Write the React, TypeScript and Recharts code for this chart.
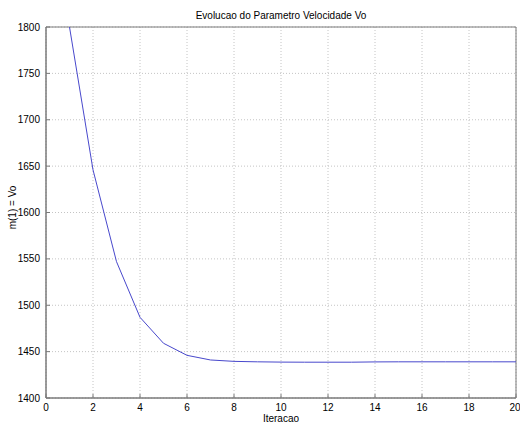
import { LineChart, Line, XAxis, YAxis, CartesianGrid, Label, ReferenceArea } from "recharts"

// iteration number and the value of m(1) = Vo
const iterations = [1, 2, 3, 4, 5, 6, 7, 8, 9, 10, 11, 12, 13, 14, 15, 16, 17, 18, 19, 20]
const voValues = [
  1800, 1646, 1547, 1487, 1459, 1446, 1441, 1439.5, 1439, 1438.7,
  1438.6, 1438.6, 1438.6, 1438.9, 1439, 1439, 1439, 1439, 1439, 1439,
]

const xTicks = [0, 2, 4, 6, 8, 10, 12, 14, 16, 18, 20]
const yTicks = [1400, 1450, 1500, 1550, 1600, 1650, 1700, 1750, 1800]

const data = iterations.map((it, i) => ({ x: it, vo: voValues[i] }))

const font = "'Liberation Sans', Arial, Helvetica, sans-serif"
const axisColor = "#7a7a7a"
const tickStyle = { fontSize: 10, fill: "#000", fontFamily: font }

export default function App() {
  return (
    <div style={{ position: "relative", width: 520, height: 426, background: "#fff", fontFamily: font }}>
      <style>{"body{margin:0}"}</style>
      <div
        style={{
          position: "absolute",
          left: 46,
          width: 470,
          top: 10,
          textAlign: "center",
          fontSize: 10,
          color: "#000",
        }}
      >
        Evolucao do Parametro Velocidade Vo
      </div>
      <LineChart width={520} height={426} data={data} margin={{ top: 27, right: 4, left: 0, bottom: 0 }}>
        <CartesianGrid stroke="#c4c4c4" strokeDasharray="1 2" />
        <XAxis
          type="number"
          dataKey="x"
          domain={[0, 20]}
          ticks={xTicks}
          height={28}
          tickSize={-4}
          tickMargin={10}
          stroke={axisColor}
          tick={tickStyle}
          allowDataOverflow
        >
          <Label value="Iteracao" position="insideBottom" offset={4} style={{ fontSize: 10, fill: "#000", fontFamily: font }} />
        </XAxis>
        <XAxis
          xAxisId="top"
          orientation="top"
          type="number"
          domain={[0, 20]}
          ticks={xTicks}
          height={0}
          tickSize={-4}
          stroke={axisColor}
          tickFormatter={() => ""}
        />
        <YAxis
          type="number"
          domain={[1400, 1800]}
          ticks={yTicks}
          width={46}
          tickSize={-4}
          tickMargin={10}
          stroke={axisColor}
          tick={tickStyle}
          allowDataOverflow
        >
          <Label
            value="m(1) = Vo"
            angle={-90}
            position="insideLeft"
            offset={12}
            dy={-5}
            style={{ fontSize: 10, fill: "#000", fontFamily: font, textAnchor: "middle" }}
          />
        </YAxis>
        <YAxis
          yAxisId="right"
          orientation="right"
          type="number"
          domain={[1400, 1800]}
          ticks={yTicks}
          width={0}
          tickSize={-4}
          stroke={axisColor}
          tickFormatter={() => ""}
        />
        <ReferenceArea x1={0} x2={20} y1={1400} y2={1800} fill="none" stroke={axisColor} strokeOpacity={1} />
        <Line
          type="linear"
          dataKey="vo"
          stroke="#4848cc"
          strokeWidth={1}
          dot={false}
          isAnimationActive={false}
        />
      </LineChart>
    </div>
  )
}
